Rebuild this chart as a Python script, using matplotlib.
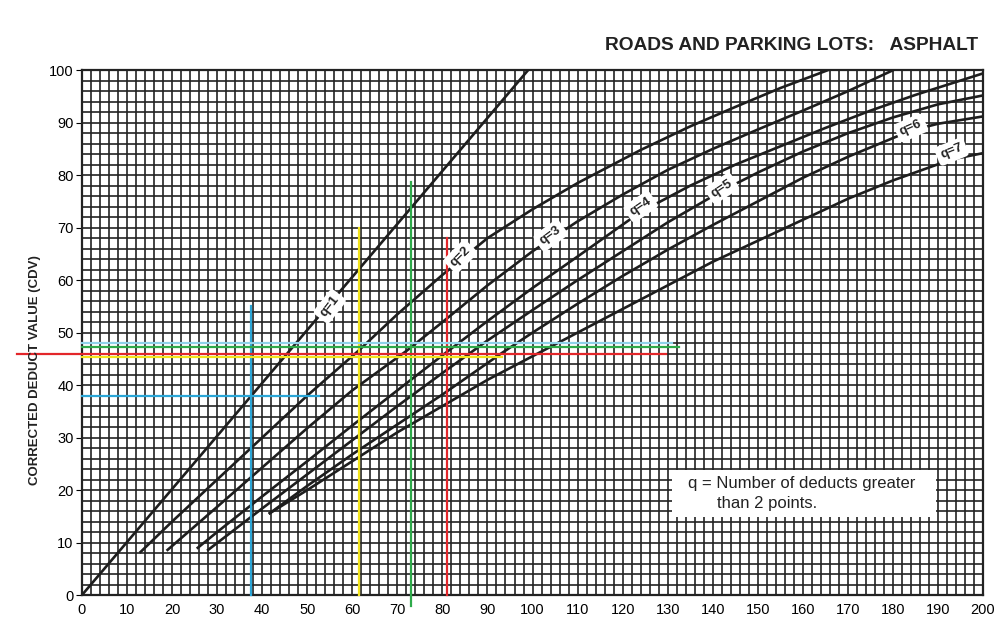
import numpy as np
import matplotlib.pyplot as plt
from matplotlib.patches import Rectangle

plt.rcParams['font.family'] = ['Liberation Sans', 'DejaVu Sans']

# Curves: total deduct value (x) vs corrected deduct value (y)
q1_x = [0, 99]
q1_y = [0, 100]

q2_x = [13, 20, 30, 40, 50, 61.3, 70, 80, 90, 100, 110, 124, 135, 145, 155, 165.5]
q2_y = [8.2, 14, 22, 30, 38, 46.5, 53.5, 61, 68, 73.5, 78.5, 84.8, 89.3, 93, 96.6, 100]

q3_x = [19, 30, 40, 50, 60, 72, 80, 90, 100, 110, 120, 130, 140, 150, 160, 170, 180]
q3_y = [8.6, 16.8, 24.3, 31.8, 39, 46.5, 52, 59, 65.5, 71.2, 76.3, 81, 85, 88.7, 92.3, 96, 100]

q4_x = [25.7, 30, 40, 50, 60, 70, 80.5, 90, 100, 110, 124, 135, 145, 155, 165, 175, 185, 200]
q4_y = [9, 12, 18.8, 25.5, 32.3, 39, 46, 52.2, 58.5, 64.5, 73, 78, 82, 85.5, 89, 92.3, 95.3, 99.4]

q5_x = [28, 40, 50, 60, 70, 80, 90, 100, 110, 120, 130, 142, 150, 160, 170, 180, 190, 200]
q5_y = [8.6, 16.5, 23, 29.5, 36, 42.3, 48.5, 54.3, 60, 65.5, 71, 77, 80.5, 84.5, 88, 91, 93.5, 95.2]

q6_x = [41.7, 50, 60, 70, 80, 93, 100, 110, 120, 130, 140, 150, 160, 170, 184, 190, 200]
q6_y = [15.6, 20.8, 26.8, 32.5, 38.2, 46, 50, 55.5, 60.8, 65.8, 70.5, 75, 79.5, 83.5, 88.5, 89.8, 91.2]

q7_x = [41.7, 50, 60, 70, 80, 90, 100, 110, 120, 130, 140, 150, 160, 170, 180, 193, 200]
q7_y = [15.6, 20, 25.5, 31, 36, 41, 45.5, 50, 54.5, 59, 63.5, 67.5, 71.5, 75.5, 79, 83, 84.2]

curves = [(q1_x, q1_y), (q2_x, q2_y), (q3_x, q3_y), (q4_x, q4_y),
          (q5_x, q5_y), (q6_x, q6_y), (q7_x, q7_y)]

# curve labels
label_text = ['q=1', 'q=2', 'q=3', 'q=4', 'q=5', 'q=6', 'q=7']
label_x = [55, 84, 104, 124, 142, 184, 193]
label_y = [55, 64.5, 68.5, 74, 77.5, 89, 84.5]
label_rot = [52, 45, 36, 34, 33, 24, 22]

# coloured reading lines drawn on the chart
v_x = [37.5, 61.5, 73, 81]
v_bottom = [0, 0, -2, 0]
v_top = [55, 70, 78.7, 68]
v_color = ['#2aa5d6', '#f2e41c', '#2eaa4a', '#e3262a']

h_y = [38, 45.3, 46, 47.2, 48]
h_x0 = [0, 0, -14.5, 0, 0]
h_x1 = [52.5, 93.2, 129.6, 132.5, 131]
h_color = ['#2aa5d6', '#f2e41c', '#e3262a', '#2eaa4a', '#8fd3ea']

fig = plt.figure(figsize=(9.95, 6.27), dpi=100)
ax = fig.add_axes([0.0824, 0.051, 0.9056, 0.837])

ax.set_xlim(0, 200)
ax.set_ylim(0, 100)

# dense graph-paper grid
ax.set_xticks(np.arange(0, 201, 10))
ax.set_yticks(np.arange(0, 101, 10))
ax.set_xticks(np.arange(0, 201, 2), minor=True)
ax.set_yticks(np.arange(0, 101, 2), minor=True)
ax.grid(which='both', color='#222222', linewidth=1.2)
ax.set_axisbelow(True)
ax.tick_params(which='minor', length=0)
ax.tick_params(axis='x', which='major', length=0, pad=6, labelsize=10.5)
ax.tick_params(axis='y', which='major', length=4, pad=2, labelsize=10.5)
for s in ax.spines.values():
    s.set_linewidth(1.6)
    s.set_color('#222222')

for cx, cy in curves:
    ax.plot(cx, cy, color='#1e1e1e', linewidth=1.9, zorder=3)

for x, b, t, c in zip(v_x, v_bottom, v_top, v_color):
    ax.plot([x, x], [b, t], color=c, linewidth=1.6, zorder=4, clip_on=False)

for y, a, b, c in zip(h_y, h_x0, h_x1, h_color):
    ax.plot([a, b], [y, y], color=c, linewidth=1.6, zorder=4, clip_on=False)

for t, x, y, r in zip(label_text, label_x, label_y, label_rot):
    ax.text(x, y, t, rotation=r, ha='center', va='center', fontsize=9.5,
            fontweight='bold', color='#222222', zorder=5,
            bbox=dict(boxstyle='round,pad=0.3', fc='white', ec='none'))

# note box
ax.add_patch(Rectangle((131, 14.9), 58.6, 8.9, facecolor='white',
                       edgecolor='none', zorder=5))
ax.text(134.5, 21.3, 'q = Number of deducts greater', fontsize=12,
        va='center', ha='left', color='#222222', zorder=6)
ax.text(141, 17.4, 'than 2 points.', fontsize=12,
        va='center', ha='left', color='#222222', zorder=6)

fig.text(0.983, 0.928, 'ROADS AND PARKING LOTS:   ASPHALT', ha='right',
         va='center', fontsize=13.8, fontweight='bold', color='#222222')
fig.text(0.035, 1 - 370 / 627, 'CORRECTED DEDUCT VALUE (CDV)', rotation=90,
         ha='center', va='center', fontsize=9.5, fontweight='bold', color='#222222')

fig.savefig('out.png', dpi=100, facecolor='white')
